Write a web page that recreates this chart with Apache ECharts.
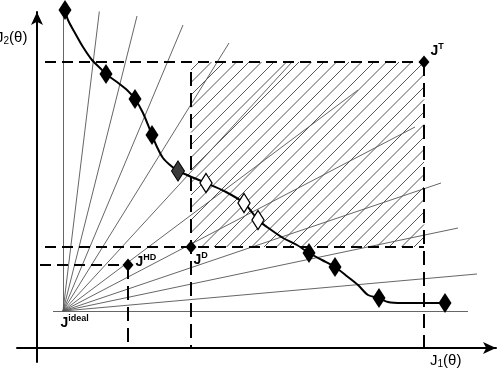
<!DOCTYPE html>
<html><head><meta charset="utf-8">
<script src="https://cdn.jsdelivr.net/npm/echarts@6/dist/echarts.min.js"></script>
<style>html,body{margin:0;padding:0;background:#fff}#c{width:497px;height:373px}</style>
</head><body><div id="c"></div>
<script>
// ---- Data (axis units: J1 horizontal, J2 vertical) ----
const jIdeal = [26, 37];
const jT = [387, 286];
const jD = [154, 101];
const jHD = [91, 83];
const rayEnds = [[26,336],[63,342],[100,332],[146,323],[192,305],[255,286],[321,258],[378,221],[404,165],[421,120],[440,74]];
const baseLine = [[16,37],[431,37]];
const paretoCurve = [[28,338],[31,328],[38,315],[46,301],[55,288],[63,280],[69,274],[80,266],[90,258],[98,249],[106,235],[115,213],[120,201],[126,190],[133,183],[141,177],[150,173],[169,165],[189,156],[207,145],[214,137],[221,128],[230,121],[246,110],[260,103],[272,95],[285,88],[298,81],[311,71],[321,63],[331,53],[342,50],[351,46],[365,45],[385,45],[408,45]];
const paretoBlack = [[28,338],[69,274],[98,249],[115,213],[272,95],[298,81],[342,50],[408,45]];
const paretoGrey = [[141,177]];
const paretoWhite = [[169,165],[207,145],[221,128]];
const guideLeftJ1 = [8, 8, 3];     // where the dashed horizontals start (J^T, J^D, J^HD)
const jDTopJ2 = 276;               // top of the dashed vertical through J^D
const axisMinJ1 = -20, axisMaxJ1 = 459, axisMinJ2 = -14, axisMaxJ2 = 336;

const chart = echarts.init(document.getElementById('c'), null, {renderer:'canvas'});
const dashH = {color:'#000', width:2, type:[11,6], opacity:1};
const dashV = {color:'#000', width:2, type:[14,7], opacity:1};
const bigJ = {fontFamily:'Liberation Sans', fontWeight:'bold', fontSize:14, color:'#000', verticalAlign:'bottom', lineHeight:16};
const supS = {fontFamily:'Liberation Sans', fontWeight:'bold', fontSize:9, color:'#000', verticalAlign:'top', lineHeight:16};

chart.setOption({
  animation:false,
  backgroundColor:'#fff',
  grid:{left:17, right:1, top:12, bottom:11},
  xAxis:{type:'value', min:axisMinJ1, max:axisMaxJ1, splitLine:{show:false}, axisTick:{show:false}, axisLabel:{show:false},
    axisLine:{show:true, onZero:true, symbol:['none','arrow'], symbolSize:[9,13], lineStyle:{color:'#000', width:2}}},
  yAxis:{type:'value', min:axisMinJ2, max:axisMaxJ2, splitLine:{show:false}, axisTick:{show:false}, axisLabel:{show:false},
    axisLine:{show:true, onZero:true, symbol:['none','arrow'], symbolSize:[9,13], lineStyle:{color:'#000', width:2}}},
  graphic:[
    {type:'text', left:-4, top:30, z:100, style:{text:'{j|J}{s|2}{j|(θ)}', rich:{
      j:{fontFamily:'Liberation Sans', fontSize:15, fill:'#000', color:'#000'},
      s:{fontFamily:'Liberation Sans', fontSize:10, fill:'#000', color:'#000', padding:[8,0,0,0]}}}},
    {type:'text', left:430, top:353, z:100, style:{text:'{j|J}{s|1}{j|(θ)}', rich:{
      j:{fontFamily:'Liberation Sans', fontSize:15, fill:'#000', color:'#000'},
      s:{fontFamily:'Liberation Sans', fontSize:10, fill:'#000', color:'#000', padding:[8,0,0,0]}}}}
  ],
  series:[
    {type:'custom', coordinateSystem:'cartesian2d', silent:true, z:1,
      data:[[jD[0], jT[1], jT[0], jD[1]]],
      encode:{x:[0,2], y:[1,3]},
      renderItem:function(params, api){
        const a = api.coord([api.value(0), api.value(1)]);
        const b = api.coord([api.value(2), api.value(3)]);
        const L=Math.min(a[0],b[0]), R=Math.max(a[0],b[0]), T=Math.min(a[1],b[1]), B=Math.max(a[1],b[1]);
        const s = 12.5, children = [];
        for (let c = R + T - Math.floor((R - L) / s) * s; c <= R + B; c += s) {
          const xa = Math.max(L, c - B), xb = Math.min(R, c - T);
          if (xb - xa > 0.5) children.push({type:'line', shape:{x1:xa, y1:c-xa, x2:xb, y2:c-xb}, style:{stroke:'#555', lineWidth:1}});
        }
        return {type:'group', children:children};
      }},
    {type:'lines', coordinateSystem:'cartesian2d', silent:true, z:2,
      data: rayEnds.map(e => ({coords:[jIdeal, e]})).concat([{coords:baseLine}]),
      lineStyle:{color:'#555', width:0.9, opacity:1}},
    {type:'lines', coordinateSystem:'cartesian2d', silent:true, z:3,
      data:[{coords:[[guideLeftJ1[0], jT[1]], jT]}, {coords:[[guideLeftJ1[1], jD[1]], [jT[0], jD[1]]]}, {coords:[[guideLeftJ1[2], jHD[1]], jHD]}],
      lineStyle:dashH},
    {type:'lines', coordinateSystem:'cartesian2d', silent:true, z:3,
      data:[{coords:[jT, [jT[0], 0]]}, {coords:[[jD[0], jDTopJ2], [jD[0], 0]]}, {coords:[jHD, [jHD[0], 0]]}],
      lineStyle:dashV},
    {type:'line', data:paretoCurve, smooth:0.3, showSymbol:false, symbol:'none', clip:false, z:5,
      lineStyle:{color:'#000', width:2}},
    {type:'scatter', data:paretoBlack, symbol:'diamond', symbolSize:[13,20], clip:false, z:6, itemStyle:{color:'#000', opacity:1}},
    {type:'scatter', data:paretoGrey, symbol:'diamond', symbolSize:[13,20], clip:false, z:6, itemStyle:{color:'#3c3c3c', borderColor:'#000', borderWidth:1, opacity:1}},
    {type:'scatter', data:paretoWhite, symbol:'diamond', symbolSize:[12,19], clip:false, z:6, itemStyle:{color:'#fff', borderColor:'#000', borderWidth:1.4, opacity:1}},
    {type:'scatter', data:[jT], symbol:'diamond', symbolSize:[11,13], clip:false, z:7, itemStyle:{color:'#000', opacity:1},
      label:{show:true, position:'right', distance:0, offset:[1,-12], formatter:'{j|J}{s|T}', rich:{j:bigJ, s:supS}}},
    {type:'scatter', data:[jHD], symbol:'diamond', symbolSize:[11,13], clip:false, z:7, itemStyle:{color:'#000', opacity:1},
      label:{show:true, position:'right', distance:0, offset:[2,-4], formatter:'{j|J}{s|HD}', rich:{j:bigJ, s:supS}}},
    {type:'scatter', data:[jD], symbol:'diamond', symbolSize:[11,13], clip:false, z:7, itemStyle:{color:'#000', opacity:1},
      label:{show:true, position:'right', distance:0, offset:[-3,12], formatter:'{j|J}{s|D}', rich:{j:bigJ, s:supS}}},
    {type:'scatter', data:[jIdeal], symbol:'circle', symbolSize:1, clip:false, z:7, itemStyle:{color:'#555', opacity:1},
      label:{show:true, position:'right', distance:0, offset:[-3,11], formatter:'{j|J}{s|ideal}', rich:{j:bigJ, s:supS}}}
  ]
});
</script></body></html>
